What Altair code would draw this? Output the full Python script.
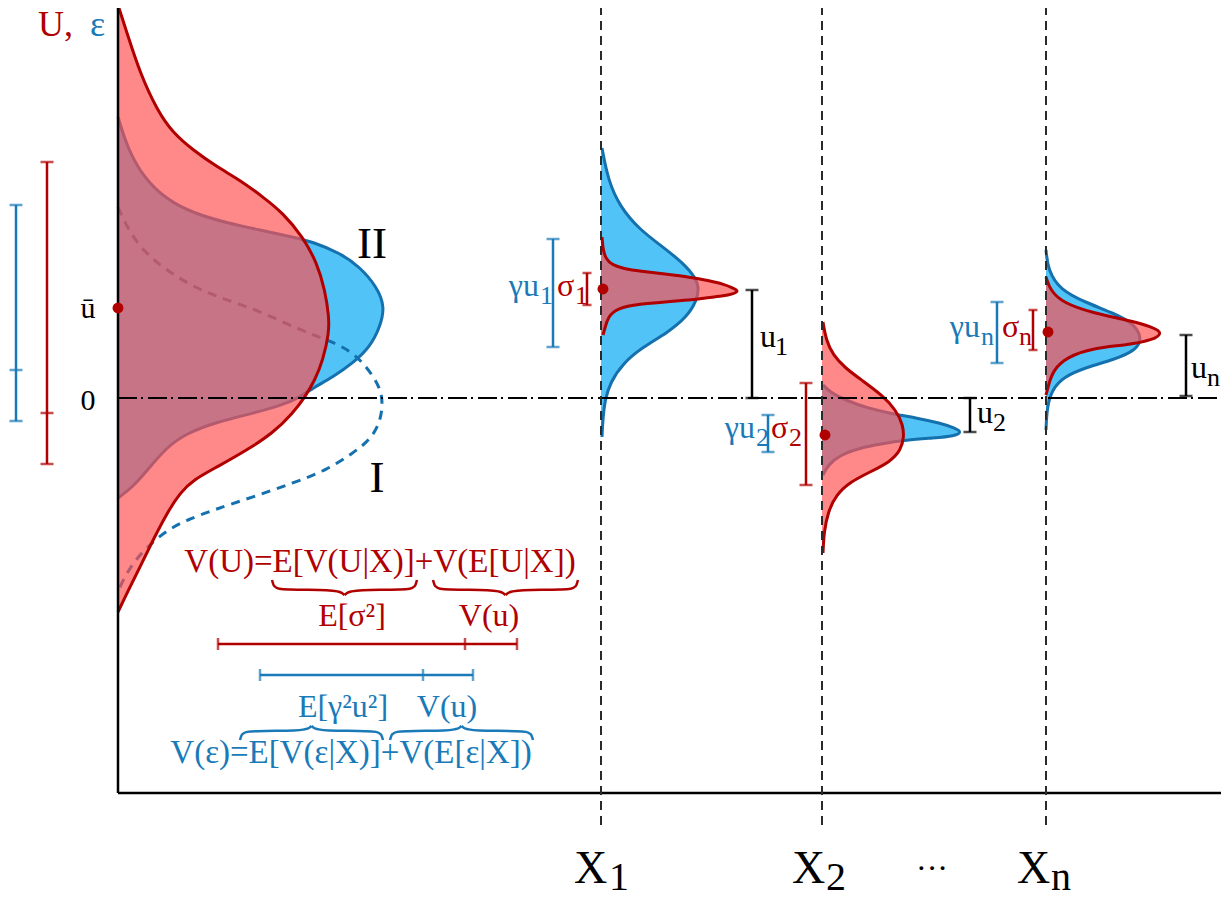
import altair as alt
import pandas as pd

# ---------------- colours ----------------
RED = "#B00000"
RED_FILL = "#FF5050"
BLUE = "#1570AE"
BLUE_TEXT = "#1A7AB8"
BLUE_FILL = "#52C3F7"
BLACK = "#000000"
GRAY = "#2A2A2A"
FONT = "'Liberation Serif', 'Times New Roman', Tinos, 'DejaVu Serif', serif"

# ------------- coordinate frame (1 unit = 100 px) -------------
X_DOMAIN = [-1.10, 11.03]
Y_DOMAIN = [-4.94, 3.90]
WIDTH, HEIGHT = 1213, 884

AXIS_TOP, AXIS_BOTTOM, AXIS_RIGHT = 3.98, -3.95, 11.07
GUIDE_BOTTOM = -4.27

# conditioning values on the horizontal axis
X_NAMES = ["X1", "X2", "Xn"]
X_AT = [4.83, 7.04, 9.28]

# ------------- marginal densities on the U / ε axis -------------
U_Y = [3.93, 3.65, 3.25, 2.88, 2.65, 2.48, 2.31, 2.18, 2.01, 1.85, 1.61, 1.35, 1.08, 0.81, 0.65,
       0.38, 0.18, 0.01, -0.15, -0.35, -0.52, -0.69, -0.82, -0.95, -1.15, -1.42, -1.69, -1.95, -2.14]
U_D = [0.00, 0.09, 0.22, 0.39, 0.55, 0.75, 0.99, 1.22, 1.45, 1.65, 1.85, 1.99, 2.07, 2.11, 2.11,
       2.05, 1.97, 1.87, 1.75, 1.55, 1.29, 0.99, 0.75, 0.62, 0.49, 0.35, 0.22, 0.09, 0.00]

EPS2_Y = [2.81, 2.51, 2.21, 1.98, 1.85, 1.75, 1.68, 1.61, 1.56, 1.45, 1.31, 1.11, 0.91, 0.71,
          0.51, 0.35, 0.21, 0.10, 0.01, -0.07, -0.16, -0.24, -0.35, -0.49, -0.69, -0.89, -1.00]
EPS2_D = [0.00, 0.09, 0.25, 0.49, 0.75, 1.09, 1.42, 1.75, 1.95, 2.22, 2.42, 2.59, 2.67, 2.62,
          2.52, 2.35, 2.15, 1.95, 1.82, 1.65, 1.32, 0.99, 0.69, 0.49, 0.32, 0.15, 0.00]

EPS1_Y = [1.91, 1.71, 1.51, 1.35, 1.21, 1.08, 0.98, 0.86, 0.68, 0.58, 0.48, 0.31, 0.11, -0.05,
          -0.25, -0.42, -0.55, -0.72, -0.85, -0.99, -1.12, -1.22, -1.32, -1.49, -1.65, -1.82, -1.94]
EPS1_D = [0.00, 0.09, 0.22, 0.39, 0.59, 0.82, 1.09, 1.44, 1.82, 2.09, 2.32, 2.49, 2.62, 2.65,
          2.62, 2.52, 2.35, 2.09, 1.75, 1.35, 0.95, 0.69, 0.49, 0.29, 0.15, 0.05, 0.00]

# ------------- conditional densities at X1, X2, Xn -------------
X1_EPS_Y = [2.50, 2.18, 1.91, 1.68, 1.51, 1.35, 1.21, 1.11, 0.98, 0.81, 0.65, 0.51, 0.35, 0.15, -0.02, -0.19, -0.39]
X1_EPS_D = [0.01, 0.07, 0.19, 0.39, 0.62, 0.82, 0.94, 0.98, 0.96, 0.86, 0.66, 0.42, 0.22, 0.09, 0.04, 0.02, 0.01]
X1_U_Y = [1.61, 1.48, 1.39, 1.33, 1.29, 1.27, 1.24, 1.21, 1.17, 1.14, 1.10, 1.07, 1.04, 1.02, 1.00,
          0.98, 0.96, 0.94, 0.90, 0.81, 0.70, 0.63]
X1_U_D = [0.01, 0.02, 0.05, 0.11, 0.24, 0.39, 0.64, 0.89, 1.09, 1.22, 1.32, 1.38, 1.32, 1.22, 1.04,
          0.89, 0.64, 0.39, 0.16, 0.07, 0.04, 0.02]

X2_U_Y = [0.76, 0.58, 0.43, 0.30, 0.17, 0.03, -0.12, -0.27, -0.39, -0.52, -0.64, -0.74, -0.84, -0.97, -1.14, -1.34, -1.55]
X2_U_D = [0.01, 0.04, 0.11, 0.23, 0.41, 0.60, 0.74, 0.81, 0.82, 0.79, 0.68, 0.48, 0.28, 0.14, 0.06, 0.02, 0.01]
X2_EPS_Y = [0.13, 0.06, -0.02, -0.10, -0.16, -0.20, -0.25, -0.30, -0.34, -0.38, -0.40, -0.42, -0.46, -0.50, -0.57, -0.67, -0.77]
X2_EPS_D = [0.01, 0.08, 0.23, 0.45, 0.71, 0.95, 1.18, 1.33, 1.40, 1.33, 1.11, 0.85, 0.58, 0.38, 0.18, 0.06, 0.01]

XN_EPS_Y = [1.48, 1.28, 1.08, 0.95, 0.85, 0.75, 0.61, 0.48, 0.38, 0.31, 0.21, 0.08, -0.09, -0.32]
XN_EPS_D = [0.00, 0.02, 0.14, 0.41, 0.67, 0.87, 0.96, 0.91, 0.67, 0.41, 0.17, 0.06, 0.01, 0.00]
XN_U_Y = [1.21, 1.08, 0.95, 0.85, 0.78, 0.71, 0.65, 0.58, 0.53, 0.50, 0.41, 0.28, 0.11, 0.03]
XN_U_D = [0.00, 0.04, 0.17, 0.47, 0.81, 1.07, 1.17, 1.07, 0.81, 0.47, 0.21, 0.07, 0.02, 0.00]

# means (dots): ū and conditional means u1, u2, un
DOT_X = [0.00, 4.85, 7.07, 9.30]
DOT_Y = [0.90, 1.09, -0.37, 0.66]

# vertical spread bars: x, low, high, colour, cap kind
VBARS = [
    (-1.02, -0.23, 1.93, BLUE_TEXT, "big"),
    (-0.71, -0.66, 2.36, RED, "big"),
    (4.35, 0.51, 1.59, BLUE_TEXT, "big"),
    (4.69, 0.93, 1.25, RED, "small"),
    (6.34, 0.00, 1.08, BLACK, "big"),
    (6.50, -0.54, -0.17, BLUE_TEXT, "big"),
    (6.88, -0.87, 0.15, RED, "big"),
    (8.52, -0.34, 0.00, BLACK, "big"),
    (8.79, 0.35, 0.96, BLUE_TEXT, "big"),
    (9.15, 0.48, 0.88, RED, "small"),
    (10.68, 0.02, 0.63, BLACK, "big"),
]
VBAR_SPLITS = [(-1.02, 0.28, BLUE_TEXT), (-0.71, -0.15, RED)]

# horizontal variance-decomposition bars: y, left, right, split, colour
HBARS = [(-2.46, 1.00, 3.99, 3.47, RED), (-2.77, 1.42, 3.55, 3.05, BLUE_TEXT)]

# curly braces: x0, x1, y at ends, y at tip, colour
BRACES = [
    (1.54, 2.99, -1.82, -1.97, RED),
    (3.15, 4.60, -1.82, -1.97, RED),
    (1.22, 2.65, -3.42, -3.28, BLUE_TEXT),
    (2.72, 4.15, -3.42, -3.28, BLUE_TEXT),
]
BRACE_U = [0.0, 0.03, 0.10, 0.25, 0.75, 0.90, 0.97, 1.0]
BRACE_V = [0.0, 0.40, 0.58, 0.63, 0.68, 0.76, 0.88, 1.0]

# text labels: text, x, y(baseline), size, colour, align
LABELS = [
    ("U,", -0.80, 3.62, 36, RED, "left"),
    ("ε", -0.28, 3.62, 36, BLUE_TEXT, "left"),
    ("ū", -0.30, 0.80, 30, BLACK, "center"),
    ("0", -0.30, -0.12, 30, BLACK, "center"),
    ("II", 2.54, 1.40, 45, BLACK, "center"),
    ("I", 2.59, -0.94, 45, BLACK, "center"),
    ("V(U)=E[V(U|X)]+V(E[U|X])", 2.62, -1.74, 33, RED, "center"),
    ("E[σ²]", 2.34, -2.28, 32, RED, "center"),
    ("V(u)", 3.71, -2.28, 32, RED, "center"),
    ("E[γ²u²]", 2.25, -3.19, 32, BLUE_TEXT, "center"),
    ("V(u)", 3.29, -3.19, 32, BLUE_TEXT, "center"),
    ("V(ε)=E[V(ε|X)]+V(E[ε|X])", 2.33, -3.65, 33, BLUE_TEXT, "center"),
    ("···", 8.14, -4.81, 32, BLACK, "center"),
    ("γu", 4.21, 1.02, 32, BLUE_TEXT, "right"), ("1", 4.22, 0.94, 26, BLUE_TEXT, "left"),
    ("σ", 4.39, 1.02, 32, RED, "left"), ("1", 4.57, 0.94, 26, RED, "left"),
    ("u", 6.42, 0.51, 32, BLACK, "left"), ("1", 6.57, 0.43, 26, BLACK, "left"),
    ("γu", 6.37, -0.40, 32, BLUE_TEXT, "right"), ("2", 6.38, -0.48, 26, BLUE_TEXT, "left"),
    ("σ", 6.53, -0.40, 32, RED, "left"), ("2", 6.71, -0.48, 26, RED, "left"),
    ("u", 8.59, -0.25, 32, BLACK, "left"), ("2", 8.75, -0.33, 26, BLACK, "left"),
    ("γu", 8.62, 0.61, 32, BLUE_TEXT, "right"), ("n", 8.63, 0.53, 26, BLUE_TEXT, "left"),
    ("σ", 8.84, 0.61, 32, RED, "left"), ("n", 9.01, 0.53, 26, RED, "left"),
    ("u", 10.73, 0.20, 32, BLACK, "left"), ("n", 10.89, 0.12, 26, BLACK, "left"),
    ("X", 4.56, -4.85, 46, BLACK, "left"), ("1", 4.91, -4.92, 40, BLACK, "left"),
    ("X", 6.74, -4.85, 46, BLACK, "left"), ("2", 7.08, -4.92, 40, BLACK, "left"),
    ("X", 8.99, -4.85, 46, BLACK, "left"), ("n", 9.33, -4.92, 40, BLACK, "left"),
]

# ---------------- build tables ----------------
def curve(name, base, ys, ds):
    return pd.DataFrame({"name": name, "i": list(range(len(ys))), "y": ys,
                         "x": [base + d for d in ds], "base": base})

blue_curves = pd.concat([
    curve("eps_II", 0.0, EPS2_Y, EPS2_D),
    curve("eps_X1", X_AT[0], X1_EPS_Y, X1_EPS_D),
    curve("eps_X2", X_AT[1], X2_EPS_Y, X2_EPS_D),
    curve("eps_Xn", X_AT[2], XN_EPS_Y, XN_EPS_D),
])
red_curves = pd.concat([
    curve("U", 0.0, U_Y, U_D),
    curve("u_X1", X_AT[0], X1_U_Y, X1_U_D),
    curve("u_X2", X_AT[1], X2_U_Y, X2_U_D),
    curve("u_Xn", X_AT[2], XN_U_Y, XN_U_D),
])
eps_I = curve("eps_I", 0.0, EPS1_Y, EPS1_D)

axes_df = pd.DataFrame([
    {"x": 0.0, "x2": 0.0, "y": AXIS_BOTTOM, "y2": AXIS_TOP},
    {"x": 0.0, "x2": AXIS_RIGHT, "y": AXIS_BOTTOM, "y2": AXIS_BOTTOM},
])
zero_df = pd.DataFrame([{"x": 0.0, "x2": AXIS_RIGHT, "y": 0.0, "y2": 0.0}])
guides_df = pd.DataFrame([{"x": xv, "x2": xv, "y": GUIDE_BOTTOM, "y2": AXIS_TOP, "name": n}
                          for xv, n in zip(X_AT, X_NAMES)])

seg_rows, cap_big, cap_small, vcap = [], [], [], []
for xv, lo, hi, c, kind in VBARS:
    seg_rows.append({"x": xv, "x2": xv, "y": lo, "y2": hi, "color": c})
    tgt = cap_big if kind == "big" else cap_small
    tgt.append({"x": xv, "y": lo, "color": c})
    tgt.append({"x": xv, "y": hi, "color": c})
for xv, yv, c in VBAR_SPLITS:
    cap_big.append({"x": xv, "y": yv, "color": c})
for yv, lo, hi, sp, c in HBARS:
    seg_rows.append({"x": lo, "x2": hi, "y": yv, "y2": yv, "color": c})
    for xv in (lo, sp, hi):
        vcap.append({"x": xv, "y": yv, "color": c})
segs = pd.DataFrame(seg_rows)

brace_rows = []
for b, (x0, x1, ye, yt, c) in enumerate(BRACES):
    half = (x1 - x0) / 2
    for u, v in zip(BRACE_U, BRACE_V):
        yy = ye + (yt - ye) * v
        brace_rows.append({"bid": f"{b}L", "x": x0 + u * half, "y": yy, "color": c})
        brace_rows.append({"bid": f"{b}R", "x": x1 - u * half, "y": yy, "color": c})
braces = pd.DataFrame(brace_rows)

dots = pd.DataFrame({"x": DOT_X, "y": DOT_Y})
labels = pd.DataFrame(LABELS, columns=["text", "x", "y", "size", "color", "align"])

# ---------------- encodings ----------------
XS = alt.Scale(domain=X_DOMAIN, nice=False, zero=False)
YS = alt.Scale(domain=Y_DOMAIN, nice=False, zero=False)


def ex(f="x"):
    return alt.X(f"{f}:Q", scale=XS, axis=None)


def ey(f="y"):
    return alt.Y(f"{f}:Q", scale=YS, axis=None)


def areas(df, fill, opacity):
    return alt.Chart(df).mark_area(orient="horizontal", interpolate="basis", color=fill,
                                   opacity=opacity).encode(
        x=ex("x"), x2=alt.X2("base"), y=ey("y"), detail=alt.Detail("name:N"))


def outlines(df, stroke, dash=None):
    kw = dict(interpolate="basis", color=stroke, strokeWidth=3)
    if dash:
        kw["strokeDash"] = dash
    return alt.Chart(df).mark_line(**kw).encode(
        x=ex("x"), y=ey("y"), detail=alt.Detail("name:N"), order=alt.Order("i:Q"))


def rules(df, **mk):
    enc = dict(x=ex("x"), x2=alt.X2("x2"), y=ey("y"), y2=alt.Y2("y2"))
    if "color" in df.columns:
        enc["color"] = alt.Color("color:N", scale=None)
    return alt.Chart(df).mark_rule(**mk).encode(**enc)


layers = [
    areas(blue_curves, BLUE_FILL, 1.0),
    outlines(blue_curves, BLUE),
    outlines(eps_I, BLUE, [9, 7]),
    areas(red_curves, RED_FILL, 0.68),
    outlines(red_curves, RED),
    rules(axes_df, color=BLACK, strokeWidth=2.5),
    rules(zero_df, color=BLACK, strokeWidth=2, strokeDash=[19, 4, 2, 5]),
    rules(guides_df, color=GRAY, strokeWidth=2, strokeDash=[9, 6]),
    rules(segs, strokeWidth=2.5),
    alt.Chart(pd.DataFrame(cap_big)).mark_tick(orient="horizontal", size=13, thickness=2.5).encode(
        x=ex(), y=ey(), color=alt.Color("color:N", scale=None)),
    alt.Chart(pd.DataFrame(cap_small)).mark_tick(orient="horizontal", size=9, thickness=2.5).encode(
        x=ex(), y=ey(), color=alt.Color("color:N", scale=None)),
    alt.Chart(pd.DataFrame(vcap)).mark_tick(orient="vertical", size=12, thickness=2.5).encode(
        x=ex(), y=ey(), color=alt.Color("color:N", scale=None)),
    alt.Chart(braces).mark_line(interpolate="monotone", strokeWidth=2.5).encode(
        x=ex(), y=ey(), detail=alt.Detail("bid:N"), order=alt.Order("x:Q"),
        color=alt.Color("color:N", scale=None)),
    alt.Chart(dots).mark_circle(size=120, opacity=1, color=RED).encode(x=ex(), y=ey()),
]

for al in ["left", "center", "right"]:
    sub = labels[labels["align"] == al]
    layers.append(
        alt.Chart(sub).mark_text(font=FONT, align=al, baseline="alphabetic").encode(
            x=ex(), y=ey(), text="text:N",
            size=alt.Size("size:Q", scale=None),
            color=alt.Color("color:N", scale=None)))

chart = alt.layer(*layers).properties(
    width=WIDTH, height=HEIGHT, padding=0,
    autosize=alt.AutoSizeParams(type="none"),
).configure_view(stroke=None)

chart.save("out.html", embed_options={"renderer": "svg", "actions": False})
